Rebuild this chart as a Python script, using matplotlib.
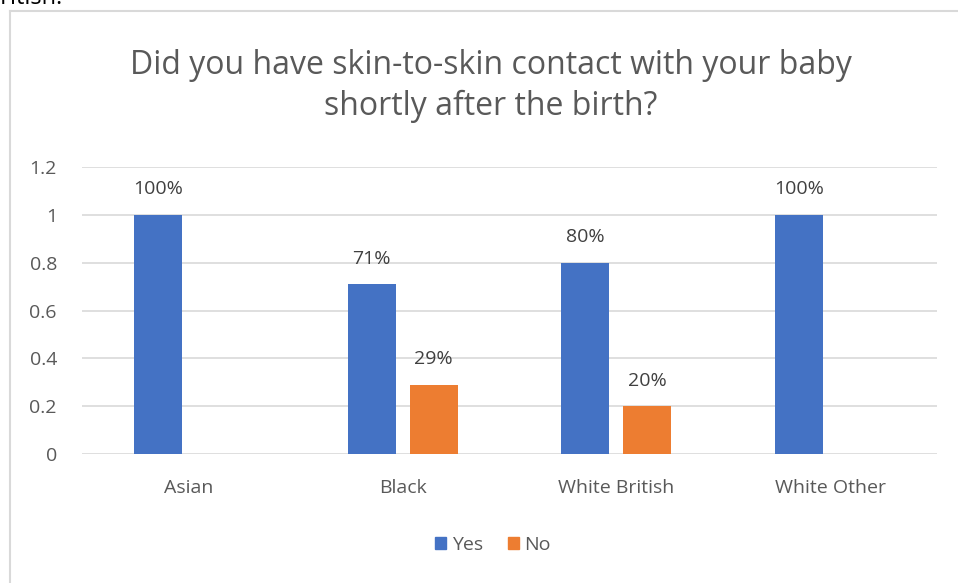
import numpy as np
import matplotlib.pyplot as plt
from matplotlib.lines import Line2D

plt.rcParams['font.family'] = ['Open Sans', 'DejaVu Sans']

categories = ['Asian', 'Black', 'White British', 'White Other']
yes_vals = [1.0, 0.71, 0.80, 1.0]
no_vals = [0.0, 0.29, 0.20, 0.0]
yes_labels = ['100%', '71%', '80%', '100%']
no_labels = ['', '29%', '20%', '']
yticks = [0, 0.2, 0.4, 0.6, 0.8, 1, 1.2]
ytick_labels = ['0', '0.2', '0.4', '0.6', '0.8', '1', '1.2']

BLUE = '#4472C4'
ORANGE = '#ED7D31'
GREY = '#595959'
GRID = '#d9d9d9'

W, H = 958, 583
fig = plt.figure(figsize=(W / 100, H / 100), dpi=100)
ax = fig.add_axes([82 / W, 1 - 454 / H, (937 - 82) / W, (454 - 167) / H])

x = np.arange(len(categories))
bw = 0.225
off = 0.145
b1 = ax.bar(x - off, yes_vals, bw, color=BLUE, label='Yes', zorder=3)
b2 = ax.bar(x + off, no_vals, bw, color=ORANGE, label='No', zorder=3)

for bars, labs in ((b1, yes_labels), (b2, no_labels)):
    for r, lab in zip(bars, labs):
        if not lab:
            continue
        ax.annotate(lab, xy=(r.get_x() + r.get_width() / 2, r.get_height()),
                    xytext=(0, 12), textcoords='offset points',
                    ha='center', va='bottom', fontsize=14, color='#404040')

ax.set_xlim(-0.5, len(categories) - 0.5)
ax.set_ylim(0, 1.2)
ax.set_yticks(yticks)
ax.set_yticklabels(ytick_labels)
ax.set_xticks(x)
ax.set_xticklabels(categories)
ax.tick_params(axis='both', length=0, labelsize=14, labelcolor=GREY)
ax.tick_params(axis='y', pad=18)
ax.tick_params(axis='x', pad=18)
ax.yaxis.grid(True, color=GRID, linewidth=1.2, zorder=0)
for s in ax.spines.values():
    s.set_visible(False)

fig.text(491 / W, 1 - 86 / H,
         'Did you have skin-to-skin contact with your baby\nshortly after the birth?',
         ha='center', va='center', fontsize=23, color=GREY, linespacing=1.3)

handles = [plt.Rectangle((0, 0), 1, 1, color=BLUE), plt.Rectangle((0, 0), 1, 1, color=ORANGE)]
fig.legend(handles, ['Yes', 'No'], loc='center', bbox_to_anchor=(493 / W, 1 - 545 / H),
           ncol=2, frameon=False, fontsize=14, labelcolor=GREY,
           handlelength=0.55, handleheight=0.55, handletextpad=0.3, columnspacing=1.3)

# chart border (cut off at the right and bottom edges of the screenshot)
fig.add_artist(Line2D([10 / W, 1.0], [1 - 11 / H, 1 - 11 / H], color=GRID, linewidth=1.5))
fig.add_artist(Line2D([10 / W, 10 / W], [0.0, 1 - 11 / H], color=GRID, linewidth=1.5))

# clipped text from the page above
fig.text(-14 / W, 1 - 4 / H, 'British.', ha='left', va='baseline', fontsize=17, color='black')

fig.savefig('out.png', dpi=100)
